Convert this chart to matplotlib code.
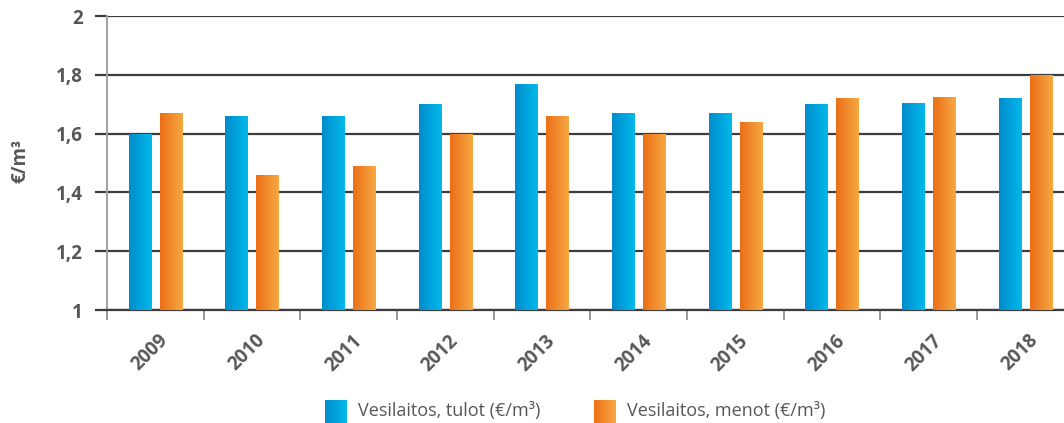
import numpy as np
import matplotlib
matplotlib.use("Agg")
import matplotlib.pyplot as plt
from matplotlib.colors import LinearSegmentedColormap

years = ["2009", "2010", "2011", "2012", "2013", "2014", "2015", "2016", "2017", "2018"]
tulot = [1.60, 1.66, 1.66, 1.70, 1.77, 1.67, 1.67, 1.70, 1.705, 1.72]
menot = [1.67, 1.46, 1.49, 1.60, 1.66, 1.60, 1.64, 1.72, 1.725, 1.80]
labels = ["Vesilaitos, tulot (€/m³)", "Vesilaitos, menot (€/m³)"]
yticks = [1, 1.2, 1.4, 1.6, 1.8, 2]
ytick_labels = ["1", "1,2", "1,4", "1,6", "1,8", "2"]

plt.rcParams['font.family'] = ['Open Sans', 'DejaVu Sans']
text_col = "#575757"

blue_cmap = LinearSegmentedColormap.from_list("b", ["#008ccc", "#00b9ea"])
orange_cmap = LinearSegmentedColormap.from_list("o", ["#ec6f17", "#f6a843"])
grad = np.linspace(0, 1, 64).reshape(1, -1)

fig = plt.figure(figsize=(10.64, 4.23), dpi=100)
ax = fig.add_axes([0.1006, 0.267, 0.8994, 0.695])

x = np.arange(len(years))
w = 0.23
off = 0.16
for vals, shift, cmap in [(tulot, -off, blue_cmap), (menot, off, orange_cmap)]:
    bars = ax.bar(x + shift, np.array(vals) - 1, w, bottom=1, color="none", zorder=3)
    for b in bars:
        x0, y0 = b.get_x(), b.get_y()
        im = ax.imshow(grad, cmap=cmap, aspect="auto", zorder=3,
                       extent=[x0, x0 + b.get_width(), y0, y0 + b.get_height()])
        im.set_clip_path(b)

ax.set_xlim(-0.5, 9.4)
ax.set_ylim(1, 2)
ax.set_yticks(yticks)
ax.set_yticklabels(ytick_labels, fontsize=13.5, fontweight="bold", color=text_col)
ax.yaxis.grid(True, color="#3c3c3c", linewidth=1.6, zorder=1)
ax.set_axisbelow(True)
ax.tick_params(axis="y", length=8.5, width=1.6, color="#3c3c3c", pad=9)

ax.set_xticks(x - 0.5)
ax.set_xticklabels([])
ax.tick_params(axis="x", length=7, width=1.4, color="#999999")
for i, yr in enumerate(years):
    ax.text(i + 0.03, -0.07, yr, transform=ax.get_xaxis_transform(), rotation=45,
            ha="right", va="top", rotation_mode="anchor", fontsize=13.5,
            fontweight="bold", color=text_col)

for s in ["top", "right"]:
    ax.spines[s].set_visible(False)
ax.spines["left"].set_color("#a0a0a0")
ax.spines["left"].set_linewidth(1.4)
ax.spines["bottom"].set_color("#3c3c3c")
ax.spines["bottom"].set_linewidth(1.6)

fig.text(0.019, 0.62, "€/m³", rotation=90, ha="center", va="center",
         fontsize=13.5, fontweight="bold", color=text_col)

# legend
for px, cmap, lab in [(325, blue_cmap, labels[0]), (594, orange_cmap, labels[1])]:
    lax = fig.add_axes([px / 1064, 0.0, 22 / 1064, 23 / 423])
    lax.imshow(grad, cmap=cmap, aspect="auto")
    lax.axis("off")
    fig.text((px + 33) / 1064, 12 / 423, lab, ha="left", va="center",
             fontsize=13, color=text_col)

fig.savefig("out.png", dpi=100)
